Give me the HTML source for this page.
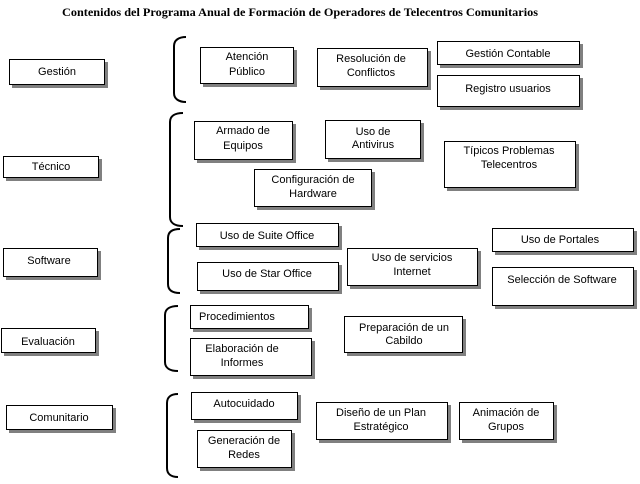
<!DOCTYPE html>
<html>
<head>
<meta charset="utf-8">
<style>
html,body{margin:0;padding:0;background:#fff;}
svg{display:block;}
text{font-family:"Liberation Sans",Arial,sans-serif;font-size:11px;fill:#000;}
.t{font-family:"Liberation Serif","Times New Roman",serif;font-weight:bold;font-size:12px;}
.sh{fill:#808080;}
.bx{fill:#fff;stroke:#000;stroke-width:1;}
.br{fill:none;stroke:#000;stroke-width:2;}
</style>
</head>
<body>
<svg width="640" height="484" viewBox="0 0 640 484" xmlns="http://www.w3.org/2000/svg">
<text class="t" x="62" y="16" textLength="476" lengthAdjust="spacingAndGlyphs">Contenidos del Programa Anual de Formación de Operadores de Telecentros Comunitarios</text>

<!-- brackets -->
<path class="br" d="M186,37 C179,37 174,40 174,46 L174,93 C174,99 179,102 186,102"/>
<path class="br" d="M183,113 C175,113 170,116 170,122 L170,217 C170,223 175,226 183,226"/>
<path class="br" d="M180,229 C172,229 168,232 168,238 L168,284 C168,290 172,293 180,293"/>
<path class="br" d="M178,306 C170,306 165,309 165,315 L165,362 C165,368 170,371 178,371"/>
<path class="br" d="M178,394 C171,394 167,397 167,403 L167,468 C167,474 171,477 178,477"/>

<!-- boxes: shadow then box -->
<g>
<!-- left column -->
<rect class="sh" x="12" y="62" width="96" height="26"/><rect class="bx" x="9.5" y="59.5" width="95" height="25"/>
<text x="57" y="75" text-anchor="middle">Gestión</text>

<rect class="sh" x="6" y="159" width="96" height="22"/><rect class="bx" x="3.5" y="156.5" width="95" height="21"/>
<text x="51" y="170" text-anchor="middle">Técnico</text>

<rect class="sh" x="6" y="251" width="95" height="29"/><rect class="bx" x="3.5" y="248.5" width="94" height="28"/>
<text x="49" y="264" text-anchor="middle">Software</text>

<rect class="sh" x="4" y="331" width="95" height="25"/><rect class="bx" x="1.5" y="328.5" width="94" height="24"/>
<text x="48" y="345" text-anchor="middle">Evaluación</text>

<rect class="sh" x="9" y="408" width="107" height="25"/><rect class="bx" x="6.5" y="405.5" width="106" height="24"/>
<text x="59" y="421" text-anchor="middle">Comunitario</text>

<!-- Gestión row -->
<rect class="sh" x="203" y="50" width="94" height="37"/><rect class="bx" x="200.5" y="47.5" width="93" height="36"/>
<text x="247" y="60" text-anchor="middle">Atención</text>
<text x="247" y="75" text-anchor="middle">Público</text>

<rect class="sh" x="320" y="51" width="111" height="39"/><rect class="bx" x="317.5" y="48.5" width="110" height="38"/>
<text x="371" y="62" text-anchor="middle">Resolución de</text>
<text x="371" y="76" text-anchor="middle">Conflictos</text>

<rect class="sh" x="440" y="44" width="143" height="24"/><rect class="bx" x="437.5" y="41.5" width="142" height="23"/>
<text x="508" y="57" text-anchor="middle">Gestión Contable</text>

<rect class="sh" x="440" y="78" width="143" height="32"/><rect class="bx" x="437.5" y="75.5" width="142" height="31"/>
<text x="508" y="92" text-anchor="middle">Registro usuarios</text>

<!-- Técnico row -->
<rect class="sh" x="197" y="124" width="99" height="39"/><rect class="bx" x="194.5" y="121.5" width="98" height="38"/>
<text x="243" y="134" text-anchor="middle">Armado de</text>
<text x="243" y="149" text-anchor="middle">Equipos</text>

<rect class="sh" x="328" y="123" width="96" height="39"/><rect class="bx" x="325.5" y="120.5" width="95" height="38"/>
<text x="373" y="135" text-anchor="middle">Uso de</text>
<text x="373" y="148" text-anchor="middle">Antivirus</text>

<rect class="sh" x="447" y="144" width="132" height="47"/><rect class="bx" x="444.5" y="141.5" width="131" height="46"/>
<text x="509" y="154" text-anchor="middle">Típicos Problemas</text>
<text x="509" y="168" text-anchor="middle">Telecentros</text>

<rect class="sh" x="257" y="172" width="118" height="38"/><rect class="bx" x="254.5" y="169.5" width="117" height="37"/>
<text x="313" y="183" text-anchor="middle">Configuración de</text>
<text x="313" y="197" text-anchor="middle">Hardware</text>

<!-- Software row -->
<rect class="sh" x="199" y="226" width="143" height="24"/><rect class="bx" x="196.5" y="223.5" width="142" height="23"/>
<text x="267" y="239" text-anchor="middle">Uso de Suite Office</text>

<rect class="sh" x="200" y="265" width="142" height="29"/><rect class="bx" x="197.5" y="262.5" width="141" height="28"/>
<text x="267" y="277" text-anchor="middle">Uso de Star Office</text>

<rect class="sh" x="350" y="251" width="131" height="38"/><rect class="bx" x="347.5" y="248.5" width="130" height="37"/>
<text x="412" y="261" text-anchor="middle">Uso de servicios</text>
<text x="412" y="275" text-anchor="middle">Internet</text>

<rect class="sh" x="495" y="231" width="142" height="24"/><rect class="bx" x="492.5" y="228.5" width="141" height="23"/>
<text x="560" y="243" text-anchor="middle">Uso de Portales</text>

<rect class="sh" x="495" y="270" width="142" height="39"/><rect class="bx" x="492.5" y="267.5" width="141" height="38"/>
<text x="562" y="283" text-anchor="middle">Selección de Software</text>

<!-- Evaluación row -->
<rect class="sh" x="193" y="308" width="119" height="24"/><rect class="bx" x="190.5" y="305.5" width="118" height="23"/>
<text x="199" y="320">Procedimientos</text>

<rect class="sh" x="193" y="341" width="122" height="38"/><rect class="bx" x="190.5" y="338.5" width="121" height="37"/>
<text x="242" y="352" text-anchor="middle">Elaboración de</text>
<text x="242" y="366" text-anchor="middle">Informes</text>

<rect class="sh" x="347" y="319" width="119" height="37"/><rect class="bx" x="344.5" y="316.5" width="118" height="36"/>
<text x="404" y="331" text-anchor="middle">Preparación de un</text>
<text x="404" y="344" text-anchor="middle">Cabildo</text>

<!-- Comunitario row -->
<rect class="sh" x="194" y="395" width="107" height="28"/><rect class="bx" x="191.5" y="392.5" width="106" height="27"/>
<text x="244" y="407" text-anchor="middle">Autocuidado</text>

<rect class="sh" x="200" y="433" width="95" height="38"/><rect class="bx" x="197.5" y="430.5" width="94" height="37"/>
<text x="244" y="444" text-anchor="middle">Generación de</text>
<text x="244" y="458" text-anchor="middle">Redes</text>

<rect class="sh" x="319" y="405" width="132" height="38"/><rect class="bx" x="316.5" y="402.5" width="131" height="37"/>
<text x="381" y="416" text-anchor="middle">Diseño de un Plan</text>
<text x="381" y="430" text-anchor="middle">Estratégico</text>

<rect class="sh" x="462" y="405" width="95" height="38"/><rect class="bx" x="459.5" y="402.5" width="94" height="37"/>
<text x="506" y="416" text-anchor="middle">Animación de</text>
<text x="506" y="430" text-anchor="middle">Grupos</text>
</g>
</svg>
</body>
</html>
